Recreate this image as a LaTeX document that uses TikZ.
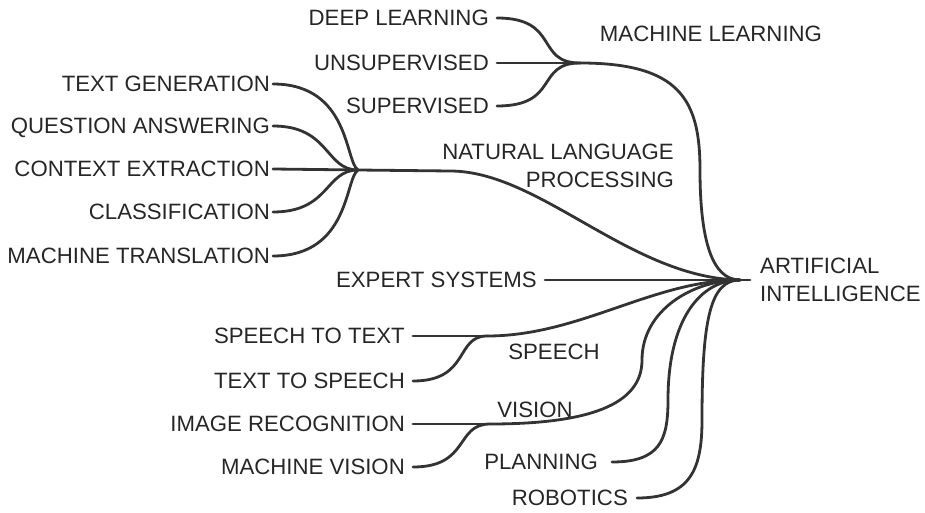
\documentclass[tikz,border=0pt]{standalone}
\usepackage{fontspec}
\setmainfont{Liberation Sans}

\begin{document}
\begin{tikzpicture}[x=1pt,y=-1pt,
    font=\fontsize{22.2}{28}\selectfont,
    rama/.style={line width=2.8pt, draw=black!80, line cap=round},
    hoja/.style={anchor=east, inner ysep=0pt, inner xsep=#1, text height=15.9pt, text depth=0pt, text=black!85},
    hoja/.default=8pt,
    rotulo/.style={inner sep=0pt, text=black!85}]
      \useasboundingbox (0,0) rectangle (925,513);
      % aprendizaje automatico
      \node[hoja] (dl) at (497,18) {DEEP LEARNING};
      \node[hoja] (un) at (497,63) {UNSUPERVISED};
      \node[hoja] (su) at (497,106) {SUPERVISED};
      \coordinate (ml) at (580,63);
      \node[rotulo] (mlt) at (711,34) {MACHINE LEARNING};
      % lenguaje natural
      \node[hoja=3pt] (tg) at (273,84) {TEXT GENERATION};
      \node[hoja=3pt] (qa) at (273,126) {QUESTION ANSWERING};
      \node[hoja=3pt] (ce) at (273,169) {CONTEXT EXTRACTION};
      \node[hoja=3pt] (cl) at (273,212) {CLASSIFICATION};
      \node[hoja=3pt] (mt) at (273,256) {MACHINE TRANSLATION};
      \coordinate (nlp) at (358,170);
      \node[rotulo, anchor=east, align=right] (nlpt) at (674,166) {NATURAL LANGUAGE\\PROCESSING};
      % sistemas expertos
      \node[hoja] (es) at (545,280) {EXPERT SYSTEMS};
      % habla
      \node[hoja] (st) at (413,336) {SPEECH TO TEXT};
      \node[hoja] (ts) at (413,381) {TEXT TO SPEECH};
      \coordinate (sp) at (487,336);
      \node[rotulo] (spt) at (554,352) {SPEECH};
      % vision
      \node[hoja] (ir) at (413,424) {IMAGE RECOGNITION};
      \node[hoja] (mv) at (413,467) {MACHINE VISION};
      \coordinate (vi) at (490,424);
      \node[rotulo] (vit) at (535,410) {VISION};
      % planificacion y robotica
      \node[hoja=14pt] (pl) at (612,462) {PLANNING};
      \node[hoja=9pt] (ro) at (637,498) {ROBOTICS};
      % raiz
      \coordinate (ia) at (740,280);
      \node[rotulo, anchor=west, align=left, inner xsep=10pt] (ai) at (750,280) {ARTIFICIAL\\INTELLIGENCE};

      % ramas de machine learning
      \draw[rama] (dl.east) .. controls +(63,0) and +(-45,0) .. (ml);
      \draw[rama] (un.east) -- (ml);
      \draw[rama] (su.east) .. controls +(63,0) and +(-45,0) .. (ml);
      \draw[rama] (ml) .. controls +(100,0) and +(0,-70) .. (700,170)
                       .. controls +(0,70) and +(-28,0) .. (ia);
      % ramas de nlp
      \draw[rama] (tg.east) .. controls +(77,0) and +(-13,-8) .. (nlp);
      \draw[rama] (qa.east) .. controls +(57,0) and +(-33,0) .. (nlp);
      \draw[rama] (ce.east) -- (nlp);
      \draw[rama] (cl.east) .. controls +(57,0) and +(-33,0) .. (nlp);
      \draw[rama] (mt.east) .. controls +(77,0) and +(-13,8) .. (nlp);
      \draw[rama] (nlp) -- (450,171) .. controls +(90,0) and +(-110,-2) .. (ia);
      % expertos
      \draw[rama] (es.east) -- (ia);
      % ramas de habla
      \draw[rama] (st.east) -- (sp);
      \draw[rama] (ts.east) .. controls +(57,0) and +(-32,0) .. (sp);
      \draw[rama] (sp) .. controls +(93,0) and +(-87,0) .. (ia);
      % ramas de vision
      \draw[rama] (ir.east) -- (vi);
      \draw[rama] (mv.east) .. controls +(57,0) and +(-35,0) .. (vi);
      \draw[rama] (vi) .. controls +(110,0) and +(0,40) .. (642,360)
                       .. controls +(0,-50) and +(-47,0) .. (ia);
      % planning, robotics
      \draw[rama] (pl.east) .. controls +(48,0) and +(0,40) .. (668,400)
                            .. controls +(0,-80) and +(-40,0) .. (ia);
      \draw[rama] (ro.east) .. controls +(53,0) and +(0,50) .. (702,420)
                            .. controls +(0,-100) and +(-30,0) .. (ia);
      \draw[rama] (ia) -- (ai.west);
  \end{tikzpicture}
\end{document}
